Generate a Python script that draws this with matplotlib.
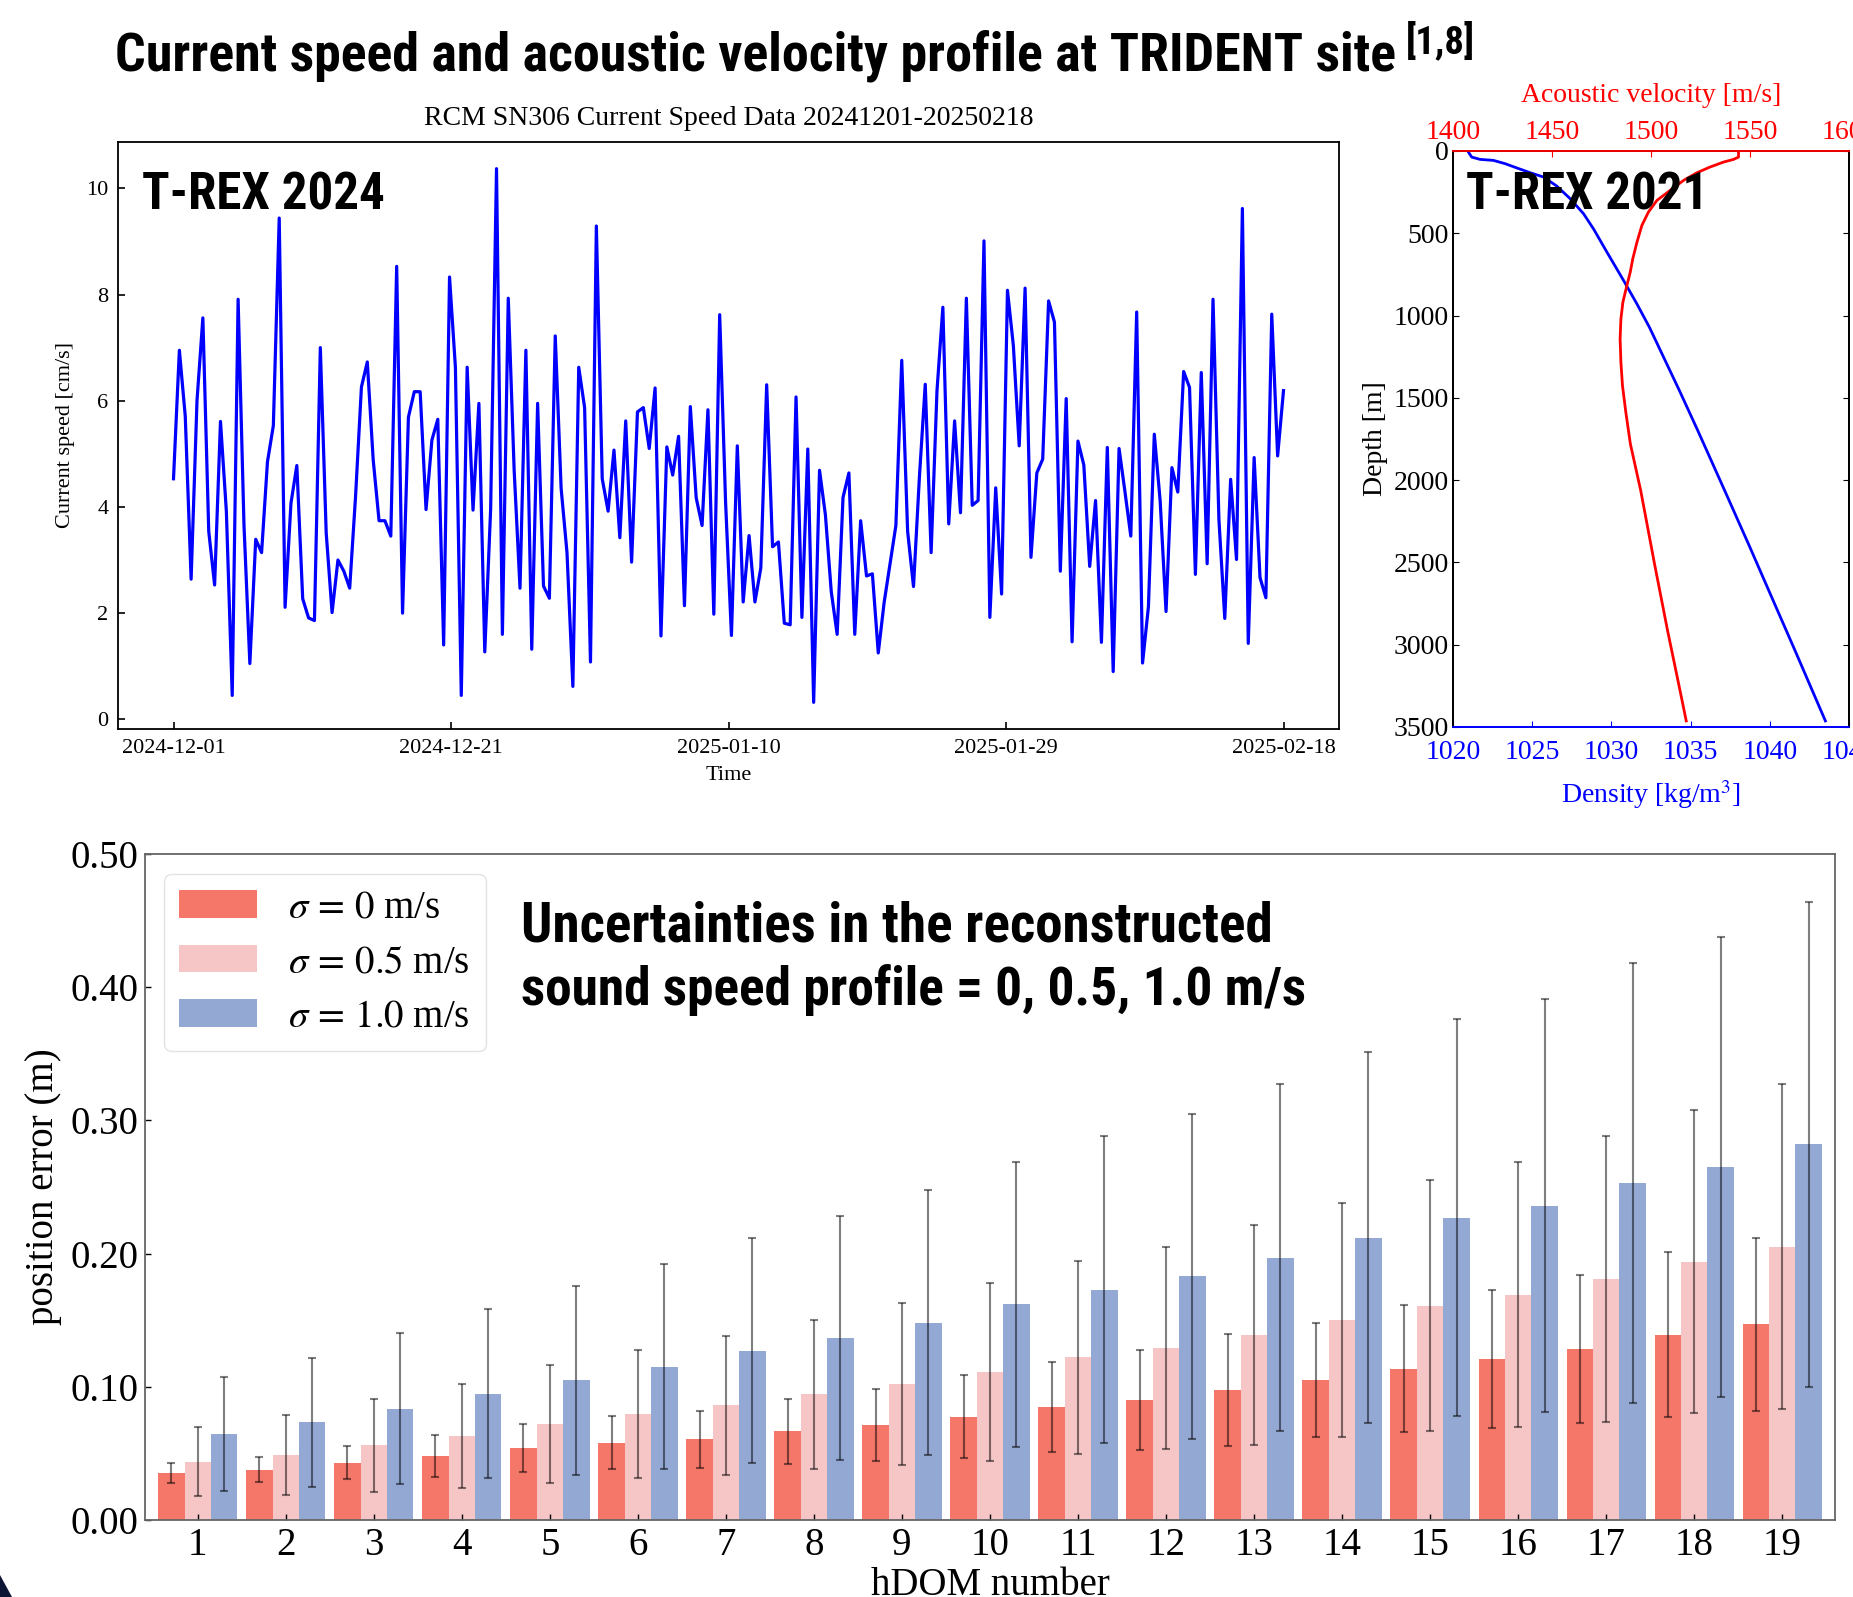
import os

os.environ.setdefault("MPLCONFIGDIR", "/tmp/matplotlib")

import matplotlib

matplotlib.use("Agg")
import matplotlib.pyplot as plt
import numpy as np
import pandas as pd
from matplotlib import font_manager
from matplotlib.patches import Polygon
from matplotlib.ticker import FormatStrFormatter

FIG_W, FIG_H = 1853, 1597
DPI = 100

# --- current speed record (RCM SN306), evenly sampled between the two dates
SPEED_START = "2024-12-01"
SPEED_END = "2025-02-18"
SPEED = [
    4.53, 6.95, 5.71, 2.64, 6.00, 7.56, 3.54, 2.53, 5.61, 3.92,
    0.45, 7.91, 3.66, 1.05, 3.39, 3.14, 4.85, 5.53, 9.44, 2.11,
    4.07, 4.78, 2.27, 1.91, 1.86, 7.00, 3.51, 2.01, 3.00, 2.79,
    2.47, 4.20, 6.26, 6.73, 4.89, 3.74, 3.74, 3.45, 8.53, 2.00,
    5.69, 6.17, 6.17, 3.95, 5.26, 5.65, 1.40, 8.33, 6.63, 0.45,
    6.63, 3.94, 5.95, 1.27, 3.96, 10.37, 1.60, 7.93, 4.70, 2.47,
    6.95, 1.32, 5.95,
    2.51, 2.28, 7.22, 4.35, 3.14, 0.62, 6.63, 5.87, 1.08, 9.29,
    4.53, 3.92, 5.07, 3.42, 5.62, 2.96, 5.79, 5.87, 5.10, 6.24,
    1.57, 5.13, 4.60, 5.33, 2.14, 5.89, 4.17, 3.65, 5.83, 1.98,
    7.62, 4.10, 1.58, 5.15, 2.21, 3.46, 2.21, 2.85, 6.30, 3.25,
    3.34, 1.81, 1.78, 6.07, 1.92, 5.09, 0.32, 4.69, 3.85, 2.40,
    1.60, 4.18, 4.64, 1.60, 3.74, 2.70, 2.74, 1.25, 2.20, 2.92,
    3.65, 6.76, 3.54, 2.50, 4.55, 6.31, 3.14, 6.19, 7.76, 3.68,
    5.62, 3.89, 7.93, 4.03, 4.12, 9.01, 1.92, 4.36, 2.36, 8.08,
    7.04, 5.15, 8.12, 3.05, 4.64, 4.90, 7.88, 7.48, 2.79, 6.04,
    1.46, 5.24, 4.79, 2.88, 4.12, 1.45, 5.12, 0.90, 5.10, 4.29,
    3.45, 7.67, 1.06, 2.12, 5.37, 4.11, 2.03, 4.74, 4.28, 6.55,
    6.25, 2.73, 6.53, 2.93, 7.91, 3.77, 1.90, 4.52, 3.01, 9.62,
    1.43, 4.93, 2.67, 2.29, 7.63, 4.96, 6.19,
]
DATE_LABELS = ["2024-12-01", "2024-12-21", "2025-01-10", "2025-01-29", "2025-02-18"]

# --- T-REX 2021 profiles
DENSITY_DEPTH = [6, 37, 51, 57, 77, 103, 132, 158, 213, 290, 381, 473, 615, 787, 929, 1071,
                 1264, 1457, 1698, 2063, 2398, 2773, 3037, 3463]
DENSITY = [1020.97, 1021.18, 1021.71, 1022.55, 1023.29, 1024.03, 1024.87, 1025.71, 1026.55,
           1027.40, 1028.24, 1028.87, 1029.72, 1030.77, 1031.61, 1032.40, 1033.35, 1034.30,
           1035.45, 1037.15, 1038.70, 1040.40, 1041.60, 1043.51]
VELOCITY_DEPTH = [0, 37, 51, 67, 97, 132, 179, 239, 300, 371, 452, 554, 655, 737, 818, 919,
                  1021, 1142, 1284, 1426, 1589, 1781, 2063, 2510, 2916, 3240, 3463]
VELOCITY = [1544.2, 1544.2, 1541.7, 1536.7, 1529.9, 1523.2, 1516.4, 1509.7, 1503.0, 1498.7,
            1495.4, 1492.9, 1490.8, 1489.5, 1487.8, 1485.8, 1484.8, 1484.4, 1484.8, 1485.6,
            1487.3, 1489.6, 1494.8, 1501.8, 1508.4, 1514.0, 1517.8]

# --- hDOM position error per sound-speed uncertainty
HDOM = list(range(1, 20))
ERR_S0 = [0.0352, 0.0378, 0.043, 0.048, 0.054, 0.058, 0.0606, 0.0668, 0.0712, 0.0775,
          0.0848, 0.0903, 0.0977, 0.105, 0.1134, 0.121, 0.1285, 0.139, 0.147]
ERR_S0_SD = [0.0075, 0.0095, 0.0125, 0.0156, 0.018, 0.020, 0.0215, 0.0244, 0.027, 0.031,
             0.034, 0.0374, 0.042, 0.043, 0.0477, 0.052, 0.0556, 0.062, 0.065]
ERR_S05 = [0.0437, 0.0485, 0.056, 0.063, 0.072, 0.0797, 0.086, 0.0943, 0.102, 0.111,
           0.122, 0.129, 0.139, 0.150, 0.161, 0.169, 0.181, 0.194, 0.205]
ERR_S05_SD = [0.026, 0.030, 0.035, 0.039, 0.044, 0.048, 0.052, 0.056, 0.061, 0.0666,
              0.0727, 0.076, 0.0826, 0.088, 0.094, 0.0995, 0.1076, 0.114, 0.122]
ERR_S10 = [0.0646, 0.0734, 0.0837, 0.0947, 0.105, 0.115, 0.127, 0.1366, 0.148, 0.162,
           0.173, 0.183, 0.197, 0.212, 0.227, 0.236, 0.253, 0.265, 0.282]
ERR_S10_SD = [0.043, 0.0485, 0.057, 0.0635, 0.071, 0.077, 0.0845, 0.0915, 0.0995, 0.107,
              0.115, 0.122, 0.130, 0.1395, 0.149, 0.155, 0.165, 0.173, 0.182]
SIGMA_LABELS = [r"$\sigma\,=\,0$ m/s", r"$\sigma\,=\,0.5$ m/s", r"$\sigma\,=\,1.0$ m/s"]
BAR_COLORS = ["#F5776A", "#F6C6C7", "#93A8D3"]


def set_style() -> None:
    plt.rcParams.update(
        {
            "font.family": "serif",
            "font.serif": ["Liberation Serif", "DejaVu Serif"],
            "mathtext.fontset": "stix",
            "axes.linewidth": 1.3,
            "xtick.direction": "in",
            "ytick.direction": "in",
        }
    )


def narrow_font() -> dict:
    fonts = font_manager.fontManager.ttflist
    names = {f.name for f in fonts}
    for name in ("Liberation Sans Narrow", "Arial Narrow", "Roboto Condensed", "Open Sans Condensed"):
        if name in names:
            return {"fontfamily": name}
    if any(f.name == "DejaVu Sans" and str(f.stretch) == "condensed" for f in fonts):
        return {"fontfamily": "DejaVu Sans", "fontstretch": "condensed"}
    return {"fontfamily": "DejaVu Sans"}


def fx(px: float) -> float:
    return px / FIG_W


def fy(py: float) -> float:
    return 1 - py / FIG_H


def axes_box(left: float, top: float, right: float, bottom: float) -> list[float]:
    return [fx(left), fy(bottom), (right - left) / FIG_W, (bottom - top) / FIG_H]


def fit_width(fig, txt, width_px: float) -> None:
    renderer = fig.canvas.get_renderer()
    w = txt.get_window_extent(renderer).width
    txt.set_fontsize(txt.get_fontsize() * width_px / w)


def plot_speed(fig) -> None:
    ax = fig.add_axes(axes_box(118, 142, 1339, 729))
    times = pd.date_range(SPEED_START, SPEED_END, periods=len(SPEED))
    ax.plot(times, SPEED, color="#0000FF", linewidth=2.3)
    ax.set_xticks(pd.date_range(SPEED_START, SPEED_END, periods=len(DATE_LABELS)))
    ax.set_xticklabels(DATE_LABELS)
    ax.set_yticks(range(0, 11, 2))
    ax.tick_params(labelsize=16, length=5, width=1.2, pad=7)
    ax.set_title("RCM SN306 Current Speed Data 20241201-20250218", fontsize=20, pad=12)
    ax.set_xlabel("Time", fontsize=16, labelpad=6)
    ax.set_ylabel("Current speed [cm/s]", fontsize=16, labelpad=8)


def plot_profile(fig) -> None:
    ax = fig.add_axes(axes_box(1453, 151, 1849, 727))
    ax.plot(DENSITY, DENSITY_DEPTH, color="#0000FF", linewidth=2.0)
    ax.set_xlim(1020, 1045)
    ax.set_ylim(3500, 0)
    ax.set_xticks(range(1020, 1046, 5))
    ax.set_yticks(range(0, 3501, 500))
    ax.tick_params(axis="x", colors="#0000FF", labelsize=20, pad=9.5, length=4)
    ax.tick_params(axis="y", labelsize=20, pad=3, length=4, right=True)
    ax.set_xlabel("Density [kg/m$^3$]", color="#0000FF", fontsize=20, labelpad=9.5)
    ax.set_ylabel("Depth [m]", fontsize=20, labelpad=4)
    ax.spines["bottom"].set_color("#0000FF")

    top = ax.twiny()
    top.plot(VELOCITY, VELOCITY_DEPTH, color="#FF0000", linewidth=2.0)
    top.set_xlim(1400, 1600)
    top.set_xticks(range(1400, 1601, 50))
    top.tick_params(axis="x", colors="#FF0000", labelsize=20, pad=4.5, length=4)
    top.set_xlabel("Acoustic velocity [m/s]", color="#FF0000", fontsize=20, labelpad=13)
    top.spines["top"].set_color("#FF0000")
    top.spines["bottom"].set_color("#0000FF")


def plot_bars(fig) -> None:
    ax = fig.add_axes(axes_box(145, 854, 1835, 1520))
    x = np.array(HDOM)
    err_kw = {"ecolor": "black", "alpha": 0.5, "elinewidth": 1.5, "capsize": 3.2, "capthick": 1.5}
    series = [(ERR_S0, ERR_S0_SD), (ERR_S05, ERR_S05_SD), (ERR_S10, ERR_S10_SD)]
    for i, ((vals, sd), label, color) in enumerate(zip(series, SIGMA_LABELS, BAR_COLORS)):
        ax.bar(x + (i - 1) * 0.3, vals, 0.3, yerr=sd, color=color, label=label, error_kw=err_kw)
    ax.set_xlim(0.4, 19.6)
    ax.set_ylim(0, 0.5)
    ax.set_xticks(x)
    ax.set_yticks(np.arange(0, 0.51, 0.1))
    ax.yaxis.set_major_formatter(FormatStrFormatter("%.2f"))
    ax.tick_params(labelsize=28, length=4, width=1.0, colors="black", pad=5)
    for spine in ax.spines.values():
        spine.set_color("#666666")
    ax.set_xlabel("hDOM number", fontsize=28, labelpad=2)
    ax.set_ylabel("position error (m)", fontsize=28, labelpad=5.5)
    leg = ax.legend(loc="upper left", bbox_to_anchor=(0.0112, 0.970), borderaxespad=0,
                    fontsize=28, labelspacing=0.45, handlelength=2.0)
    leg.get_frame().set_edgecolor("#DDDDDD")


def add_texts(fig) -> None:
    narrow = narrow_font()
    title = fig.text(fx(115), fy(70), "Current speed and acoustic velocity profile at TRIDENT site",
                     fontsize=35, fontweight="bold", va="baseline", **narrow)
    fit_width(fig, title, 1282)
    sup = fig.text(fx(1406), fy(53), "[1,8]", fontsize=22, fontweight="bold", va="baseline", **narrow)
    fit_width(fig, sup, 69)

    for x0, label in ((142, "T-REX 2024"), (1466, "T-REX 2021")):
        t = fig.text(fx(x0), fy(210), label, fontsize=35, fontweight="bold", va="baseline",
                     zorder=10, **narrow)
        fit_width(fig, t, 243)

    line1 = fig.text(fx(521), fy(942), "Uncertainties in the reconstructed", fontsize=30,
                     fontweight="bold", va="baseline", **narrow)
    fit_width(fig, line1, 752)
    line2 = fig.text(fx(521), fy(1005), "sound speed profile = 0, 0.5, 1.0 m/s", fontsize=30,
                     fontweight="bold", va="baseline", **narrow)
    fit_width(fig, line2, 787)

    # slide background corner peeking in at the lower left
    fig.patches.append(Polygon([[0, fy(1575)], [0, 0], [fx(12), 0]], closed=True,
                               transform=fig.transFigure, facecolor="#0D1535", edgecolor="none"))


def main() -> None:
    set_style()
    fig = plt.figure(figsize=(FIG_W / DPI, FIG_H / DPI), dpi=DPI)
    plot_speed(fig)
    plot_profile(fig)
    plot_bars(fig)
    add_texts(fig)
    fig.savefig("out.png", dpi=DPI)
    plt.close(fig)


if __name__ == "__main__":
    main()
